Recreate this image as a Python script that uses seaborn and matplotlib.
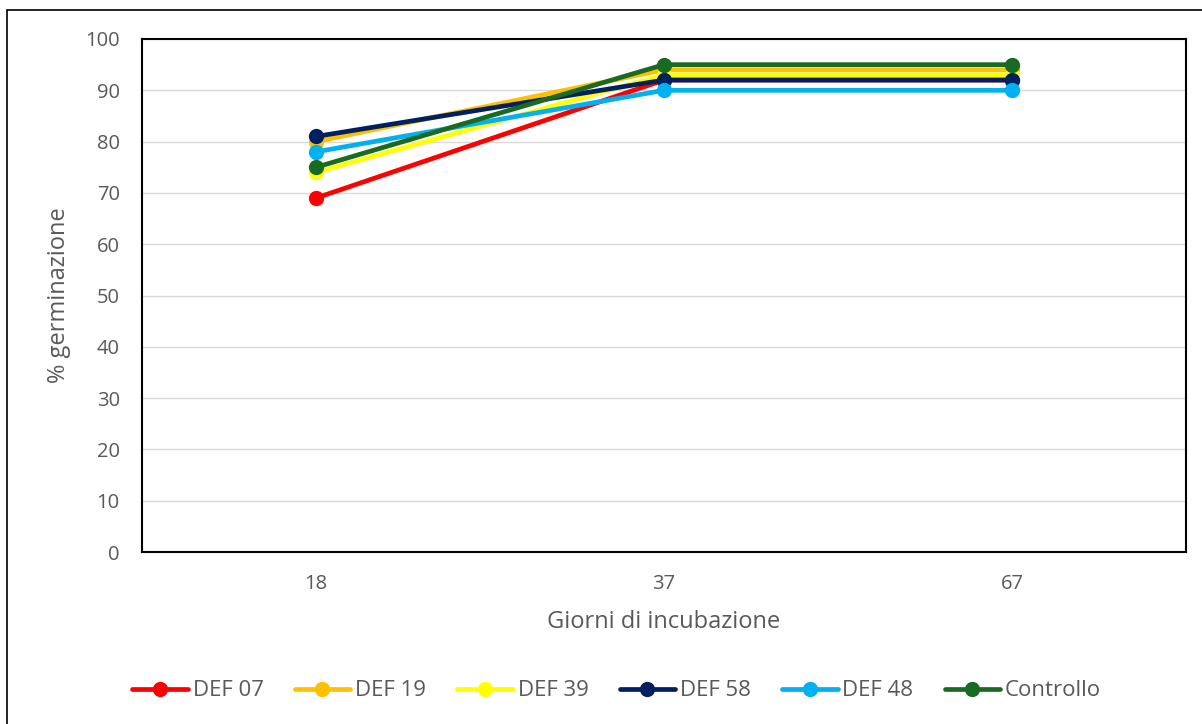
import pandas as pd
import matplotlib
matplotlib.use('Agg')
import matplotlib.pyplot as plt
import seaborn as sns
from matplotlib.patches import Rectangle

# dati
giorni = ['18', '37', '67']
serie = ['DEF 07', 'DEF 19', 'DEF 39', 'DEF 58', 'DEF 48', 'Controllo']
def07 = [69, 92, 92]
def19 = [80, 94, 94]
def39 = [74, 93, 93]
def58 = [81, 92, 92]
def48 = [78, 90, 90]
controllo = [75, 95, 95]
colori = ['#FF0000', '#FFC000', '#FFFF00', '#002060', '#00B0F0', '#196B24']

valori = [def07, def19, def39, def58, def48, controllo]
righe = []
for nome, v in zip(serie, valori):
    for g, val in zip(giorni, v):
        righe.append({'giorni': g, 'germ': val, 'serie': nome})
df = pd.DataFrame(righe)

sns.set_theme(style='white')
plt.rcParams['font.family'] = ['Open Sans', 'DejaVu Sans']
grigio = '#595959'

fig = plt.figure(figsize=(12.02, 7.24), dpi=100)
ax = fig.add_axes([142/1202, 1 - 552/724, (1186-142)/1202, (552-39)/724])

sns.lineplot(data=df, x='giorni', y='germ', hue='serie', hue_order=serie,
             palette=colori, marker='o', markersize=11, markeredgewidth=0,
             linewidth=3.4, sort=False, ax=ax, legend=False)

ax.set_xlim(-0.5, 2.5)
ax.set_ylim(0, 100)
ax.set_yticks(range(0, 101, 10))
ax.yaxis.grid(True, color='#D9D9D9', linewidth=1)
ax.set_axisbelow(True)
for s in ax.spines.values():
    s.set_color('black')
    s.set_linewidth(1.5)
ax.tick_params(axis='both', length=0, labelsize=14.5, colors=grigio, pad=16)
ax.set_xlabel('Giorni di incubazione', fontsize=17, color=grigio, labelpad=11)
ax.set_ylabel('% germinazione', fontsize=17, color=grigio, labelpad=10)

handles = [plt.Line2D([], [], color=c, linewidth=3.4, marker='o', markersize=11,
                      markeredgewidth=0) for c in colori]
fig.legend(handles, serie, loc='center', bbox_to_anchor=(0.513, 1 - 691/724),
           ncol=6, frameon=False, fontsize=16, handlelength=2.5,
           handletextpad=0.22, columnspacing=1.4, labelcolor=grigio)

# bordo esterno del grafico
fig.patches.append(Rectangle((7/1202, -0.01), 1.01, 1 - 10/724 + 0.01,
                             transform=fig.transFigure, fill=False,
                             edgecolor='black', linewidth=1.2))

fig.savefig('out.png', dpi=100)
